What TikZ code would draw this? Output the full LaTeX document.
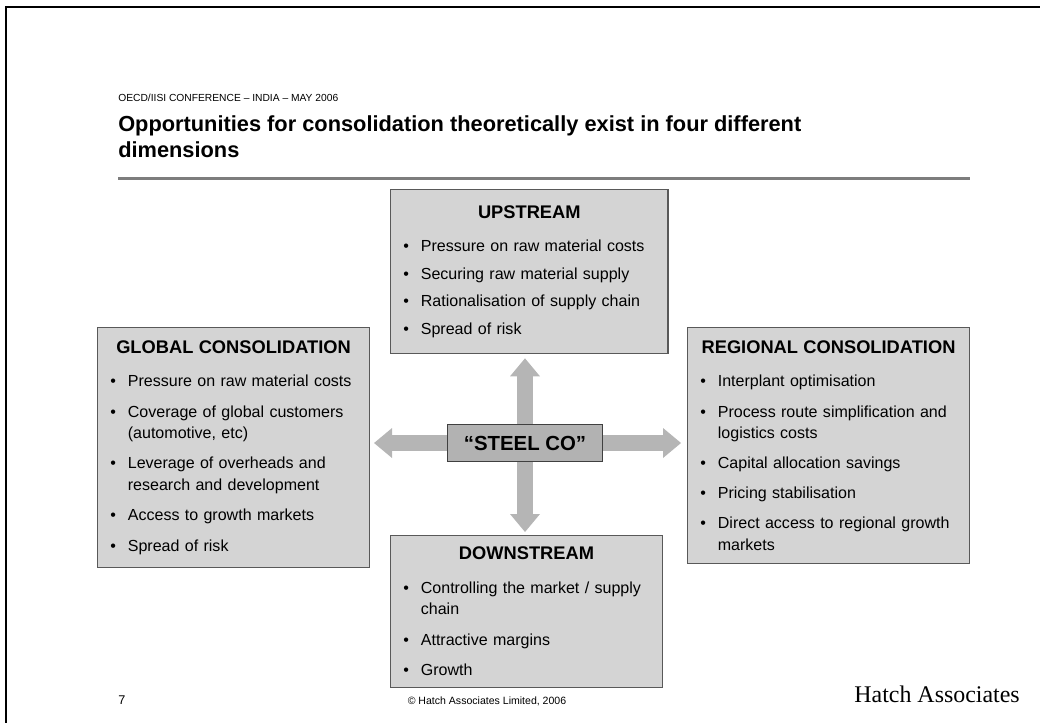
\documentclass[tikz,border=0pt]{standalone}
\usepackage{fontspec}
\setmainfont{Liberation Sans}
\newfontfamily\hatchfont{Liberation Serif}
\usepackage{xcolor}
\usetikzlibrary{arrows.meta,positioning}
\definecolor{boxgray}{RGB}{212,212,212}
\definecolor{steelgray}{RGB}{178,178,178}
\definecolor{arrowgray}{RGB}{181,181,181}
\definecolor{rulegray}{RGB}{125,125,125}

\newcommand{\boxtitle}[1]{{\centering\bfseries\fontsize{13}{15}\selectfont #1\par}\vspace{8.5pt}}
\newenvironment{pointlist}[1]{%
  \begin{list}{\textbullet}{%
    \setlength{\leftmargin}{12.5pt}%
    \setlength{\labelwidth}{8pt}%
    \setlength{\labelsep}{4.5pt}%
    \setlength{\itemsep}{#1}%
    \setlength{\parsep}{0pt}%
    \setlength{\topsep}{0pt}%
    \setlength{\partopsep}{0pt}%
    \renewcommand{\makelabel}[1]{##1\hfil}}}%
  {\end{list}}

\begin{document}
\begin{tikzpicture}[x=0.025cm,y=-0.025cm,
    infobox/.style={draw=black!65, fill=boxgray, line width=0.9pt, anchor=north west,
      align=left, inner xsep=9pt, inner ysep=4pt, font=\fontsize{11.4}{15}\selectfont},
    steelbox/.style={draw=black!75, fill=steelgray, line width=0.9pt,
      minimum width=3.875cm, minimum height=0.925cm, font=\bfseries\fontsize{14.5}{16}\selectfont},
    bigarrow/.style={draw=arrowgray, line width=0.4cm,
      -{Triangle[length=0.45cm,width=0.75cm,line width=0pt]}}]
                \useasboundingbox (0,0) rectangle (1040,723);

                % Page edge
                \draw[line width=0.05cm] (6,723) -- (6,7) -- (1040,7);

                % Heading
                \node[anchor=base west, inner sep=0, font=\fontsize{7.3}{9}\selectfont] (conf) at (118,101)
                    {OECD/IISI CONFERENCE – INDIA – MAY 2006};
                \node[anchor=north west, inner sep=0, align=left, font=\bfseries\fontsize{15.5}{18.5}\selectfont] (title) at (118,115)
                    {Opportunities for consolidation theoretically exist in four different\\dimensions};
                \draw[rulegray, line width=0.075cm] (118,178) -- (970,178);

                % Upstream
                \node[infobox, text width=6.3cm, minimum height=4.1cm] (up) at (390,189) {\boxtitle{UPSTREAM}
                    \begin{pointlist}{4.5pt}
                        \item Pressure on raw material costs
                        \item Securing raw material supply
                        \item Rationalisation of supply chain
                        \item Spread of risk
                    \end{pointlist}\vspace{4pt}};

                % Global consolidation
                \node[infobox, text width=6.16cm, minimum height=6cm] (glob) at (97,327) {\boxtitle{GLOBAL CONSOLIDATION}
                    \begin{pointlist}{6.8pt}
                        \item Pressure on raw material costs
                        \item Coverage of global customers\newline (automotive, etc)
                        \item Leverage of overheads and\newline research and development
                        \item Access to growth markets
                        \item Spread of risk
                    \end{pointlist}};

                % Regional consolidation
                \node[infobox, text width=6.41cm, minimum height=5.9cm] (reg) at (687,327) {\boxtitle{REGIONAL CONSOLIDATION}
                    \begin{pointlist}{6.5pt}
                        \item Interplant optimisation
                        \item Process route simplification and\newline logistics costs
                        \item Capital allocation savings
                        \item Pricing stabilisation
                        \item Direct access to regional growth\newline markets
                    \end{pointlist}};

                % Downstream
                \node[infobox, text width=6.16cm, minimum height=3.8cm] (down) at (390,535) {\boxtitle{DOWNSTREAM}
                    \begin{pointlist}{7pt}
                        \item Controlling the market / supply\newline chain
                        \item Attractive margins
                        \item Growth
                    \end{pointlist}};

                % Steel co
                \node[steelbox] (steel) at (525,443) {“STEEL CO”};

                % Arrows
                \draw[bigarrow, shorten >=0.1cm] (steel.north) -- (steel.north |- up.south);
                \draw[bigarrow, shorten >=0.075cm] (steel.south) -- (steel.south |- down.north);
                \draw[bigarrow, shorten >=0.1cm] (steel.west) -- (steel.west -| glob.east);
                \draw[bigarrow, shorten >=0.15cm] (steel.east) -- (steel.east -| reg.west);

                % Footer
                \node[anchor=base west, inner sep=0, font=\fontsize{9}{11}\selectfont] (page) at (118,704) {7};
                \node[anchor=base, inner sep=0, font=\fontsize{7.5}{9}\selectfont] (copy) at (487,704) {© Hatch Associates Limited, 2006};
                \node[anchor=base east, inner sep=0, font=\hatchfont\fontsize{17}{20}\selectfont] (hatch) at (1020,702) {Hatch Associates};
\end{tikzpicture}
\end{document}
